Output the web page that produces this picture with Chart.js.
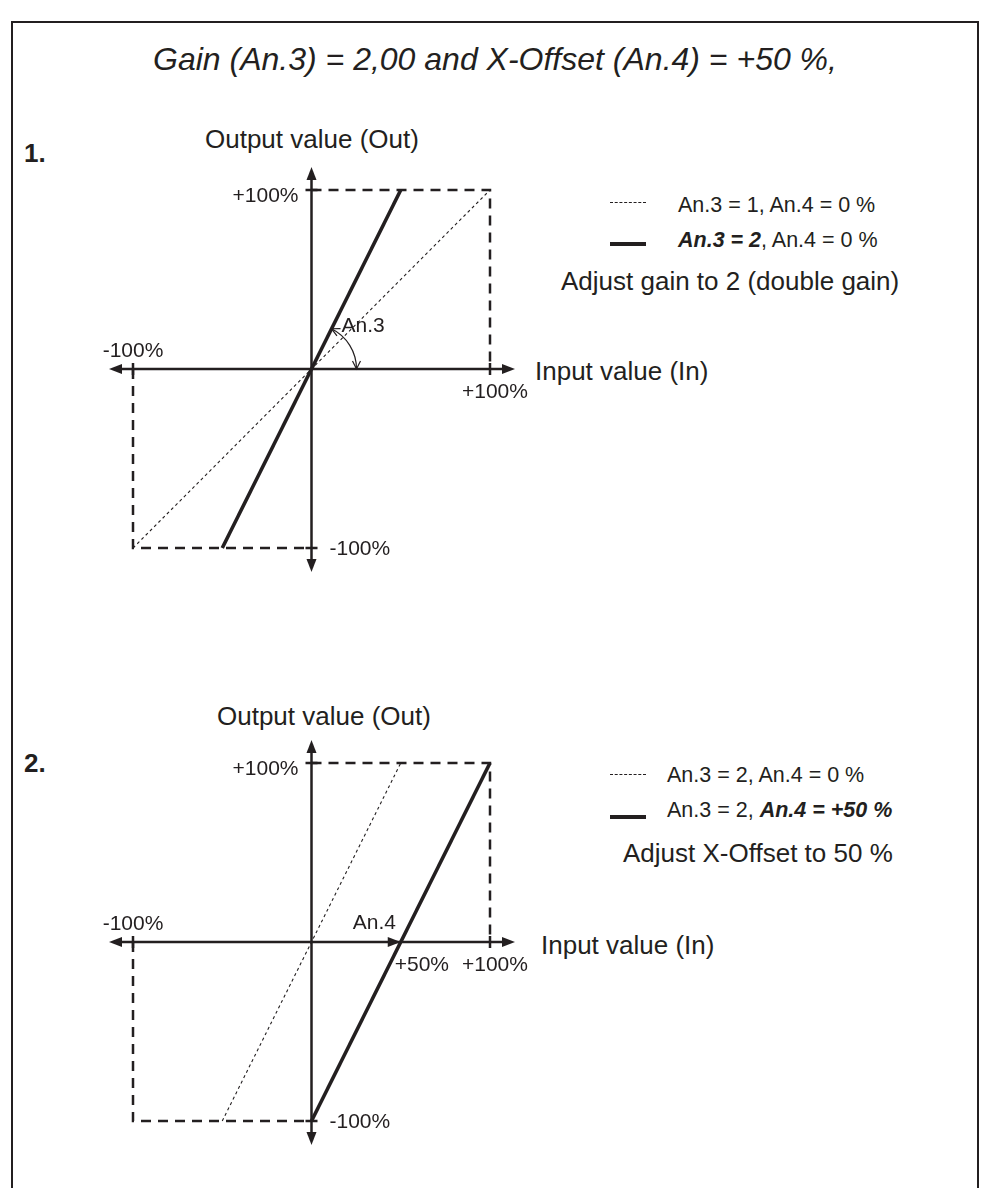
<!DOCTYPE html>
<html>
<head>
<meta charset="utf-8">
<script src="https://cdn.jsdelivr.net/npm/chart.js@4.4.0/dist/chart.umd.min.js"></script>
<style>
    html, body { margin: 0; padding: 0; background: #fff; }
    body {
        width: 989px; height: 1188px; position: relative; overflow: hidden;
        font-family: "Liberation Sans", Arial, sans-serif; color: #231f20;
    }
    .frame {
        position: absolute; left: 11px; top: 21px; width: 964px; height: 1200px;
        border: 2px solid #231f20; border-bottom: none;
    }
    .t { position: absolute; white-space: nowrap; line-height: 1; }
    .title { left: 12px; width: 966px; text-align: center; top: 43px; font-size: 32px; font-style: italic; }
    .num { font-size: 26px; font-weight: bold; left: 24px; }
    .axt { font-size: 26px; }
    .leg { font-size: 21.5px; }
    .adj { font-size: 26px; }
    .sw { position: absolute; left: 610px; width: 36px; height: 0; }
    .sw.dot { border-top: 1px dashed #231f20; }
    .sw.bold { border-top: 4px solid #231f20; }
    canvas { position: absolute; left: 0; }
</style>
</head>
<body>
<div class="frame"></div>
<div class="t title">Gain (An.3) = 2,00 and X-Offset (An.4) = +50 %,</div>

<div class="t num" style="top:140px">1.</div>
<div class="t axt" style="left:205px; top:126px">Output value (Out)</div>
<div class="t axt" style="left:535px; top:358px">Input value (In)</div>
<div class="sw dot" style="top:202px"></div>
<div class="t leg" style="left:678px; top:195px">An.3 = 1, An.4 = 0 %</div>
<div class="sw bold" style="top:242px"></div>
<div class="t leg" style="left:678px; top:230px"><b><i>An.3 = 2</i></b>, An.4 = 0 %</div>
<div class="t adj" style="left:561px; top:268px">Adjust gain to 2 (double gain)</div>

<div class="t num" style="top:750px">2.</div>
<div class="t axt" style="left:217px; top:703px">Output value (Out)</div>
<div class="t axt" style="left:541px; top:932px">Input value (In)</div>
<div class="sw dot" style="top:774px"></div>
<div class="t leg" style="left:667px; top:765px">An.3 = 2, An.4 = 0 %</div>
<div class="sw bold" style="top:815px"></div>
<div class="t leg" style="left:667px; top:800px">An.3 = 2, <b><i>An.4 = +50 %</i></b></div>
<div class="t adj" style="left:623px; top:840px">Adjust X-Offset to 50 %</div>

<canvas id="chart1" width="989" height="480" style="top:110px"></canvas>
<canvas id="chart2" width="989" height="508" style="top:680px"></canvas>

<script>
const ink = '#231f20';

// dashed +/-100% frame, same in both diagrams
const frameLowX = [-100, -100, 0];
const frameLowY = [0, -100, -100];
const frameHighX = [0, 100, 100];
const frameHighY = [100, 100, 0];

// diagram 1: gain 1 vs gain 2
const unityX = [-100, 100];
const unityY = [-100, 100];
const gainX = [-50, 50];
const gainY = [-100, 100];

// diagram 2: gain 2, offset 0 vs offset +50
const noOffsetX = [-50, 50];
const noOffsetY = [-100, 100];
const offsetX = [0, 100];
const offsetY = [-100, 100];

// tick marks and labels
const tickMarks = [-100, 100];
const xTicks1 = [-100, 100];
const xTickText1 = ['-100%', '+100%'];
const xTicks2 = [-100, 50, 100];
const xTickText2 = ['-100%', '+50%', '+100%'];
const yTicks = [-100, 100];
const yTickText = ['-100%', '+100%'];

function pts(xs, ys) {
    return xs.map((x, i) => ({ x: x, y: ys[i] }));
}

function frameSet(xs, ys) {
    return { data: pts(xs, ys), borderColor: ink, borderWidth: 2.5, borderDash: [10, 7], clip: false };
}
function dotSet(xs, ys) {
    return { data: pts(xs, ys), borderColor: ink, borderWidth: 1.1, borderDash: [3, 3], clip: false };
}
function boldSet(xs, ys) {
    return { data: pts(xs, ys), borderColor: ink, borderWidth: 3.6, clip: false };
}

// filled arrow head, tip at (x, y), pointing along (dx, dy)
function arrowHead(ctx, x, y, dx, dy, len, half) {
    const bx = x - dx * len, by = y - dy * len;
    ctx.beginPath();
    ctx.moveTo(x, y);
    ctx.lineTo(bx - dy * half, by + dx * half);
    ctx.lineTo(bx + dy * half, by - dx * half);
    ctx.closePath();
    ctx.fill();
}

// open (thin) arrow head
function openHead(ctx, x, y, dx, dy, len, half) {
    const bx = x - dx * len, by = y - dy * len;
    ctx.beginPath();
    ctx.moveTo(bx - dy * half, by + dx * half);
    ctx.lineTo(x, y);
    ctx.lineTo(bx + dy * half, by - dx * half);
    ctx.stroke();
}

const crossAxes = {
    id: 'crossAxes',
    beforeDatasetsDraw(chart, args, o) {
        const ctx = chart.ctx, xs = chart.scales.x, ys = chart.scales.y;
        const x0 = xs.getPixelForValue(0), y0 = ys.getPixelForValue(0);
        const left = xs.getPixelForValue(xs.min) - 24, right = xs.getPixelForValue(xs.max) + 25;
        const top = ys.getPixelForValue(ys.max) - 23, bottom = ys.getPixelForValue(ys.min) + 24;
        ctx.save();
        ctx.strokeStyle = ink;
        ctx.fillStyle = ink;
        ctx.lineWidth = 2.5;
        ctx.beginPath();
        ctx.moveTo(left + 10, y0); ctx.lineTo(right - 10, y0);
        ctx.moveTo(x0, top + 10); ctx.lineTo(x0, bottom - 10);
        o.marks.forEach(v => {
            const px = xs.getPixelForValue(v), py = ys.getPixelForValue(v);
            ctx.moveTo(px, y0 - 6); ctx.lineTo(px, y0 + 6);
            ctx.moveTo(x0 - 6, py); ctx.lineTo(x0 + 6, py);
        });
        ctx.stroke();
        arrowHead(ctx, left, y0, -1, 0, 13, 5);
        arrowHead(ctx, right, y0, 1, 0, 13, 5);
        arrowHead(ctx, x0, top, 0, -1, 13, 5);
        arrowHead(ctx, x0, bottom, 0, 1, 13, 5);
        ctx.restore();
    },
    afterDatasetsDraw(chart, args, o) {
        const ctx = chart.ctx, xs = chart.scales.x, ys = chart.scales.y;
        const x0 = xs.getPixelForValue(0), y0 = ys.getPixelForValue(0);
        ctx.save();
        ctx.fillStyle = ink;
        ctx.strokeStyle = ink;
        ctx.font = '21px "Liberation Sans", Arial, sans-serif';
        ctx.textBaseline = 'alphabetic';
        o.xTicks.forEach((v, i) => {
            const p = xs.getPixelForValue(v);
            if (v < 0) {
                ctx.textAlign = 'center';
                ctx.fillText(o.xText[i], p, y0 - 12);
            } else {
                ctx.textAlign = 'left';
                ctx.fillText(o.xText[i], p + o.xShift[i], y0 + 29);
            }
        });
        o.yTicks.forEach((v, i) => {
            const p = ys.getPixelForValue(v);
            if (v > 0) {
                ctx.textAlign = 'right';
                ctx.fillText(o.yText[i], x0 - 13, p + 12);
            } else {
                ctx.textAlign = 'left';
                ctx.fillText(o.yText[i], x0 + 18, p + 7);
            }
        });

        if (o.angle) {
            // gain angle between the x axis and the gain line
            const px = xs.getPixelForValue(o.angle.x[1]) - x0;
            const py = ys.getPixelForValue(o.angle.y[1]) - y0;
            const a = Math.atan2(py, px), r = 45;
            ctx.lineWidth = 1.2;
            ctx.beginPath();
            ctx.arc(x0, y0, r, a, 0, false);
            ctx.stroke();
            openHead(ctx, x0 + r, y0, 0, 1, 8, 4);
            openHead(ctx, x0 + r * Math.cos(a), y0 + r * Math.sin(a), Math.sin(a), -Math.cos(a), 8, 4);
            ctx.textAlign = 'left';
            ctx.fillText(o.angle.text, x0 + 30, y0 - 37);
        }
        if (o.offset) {
            // x-offset: where the shifted line crosses the x axis
            const xs0 = o.offset.x[0], xs1 = o.offset.x[1], ys0 = o.offset.y[0], ys1 = o.offset.y[1];
            const cross = xs0 + (0 - ys0) * (xs1 - xs0) / (ys1 - ys0);
            const tip = xs.getPixelForValue(cross);
            arrowHead(ctx, tip, y0, 1, 0, 13, 5);
            ctx.textAlign = 'left';
            ctx.fillText(o.offset.text, tip - 48, y0 - 13);
        }
        ctx.restore();
    }
};

function makeChart(id, datasets, pad, axisOpts) {
    return new Chart(document.getElementById(id), {
        type: 'scatter',
        data: { datasets: datasets },
        options: {
            responsive: false,
            devicePixelRatio: 1,
            animation: false,
            showLine: true,
            elements: { point: { radius: 0 }, line: { tension: 0 } },
            layout: { padding: pad },
            scales: {
                x: { type: 'linear', min: -100, max: 100, display: false },
                y: { type: 'linear', min: -100, max: 100, display: false }
            },
            plugins: {
                legend: { display: false },
                tooltip: { enabled: false },
                crossAxes: axisOpts
            }
        },
        plugins: [crossAxes]
    });
}

makeChart('chart1', [
    frameSet(frameLowX, frameLowY),
    frameSet(frameHighX, frameHighY),
    dotSet(unityX, unityY),
    boldSet(gainX, gainY)
], { left: 133, right: 499, top: 80, bottom: 42 }, {
    marks: tickMarks,
    xTicks: xTicks1, xText: xTickText1, xShift: [0, -28],
    yTicks: yTicks, yText: yTickText,
    angle: { x: gainX, y: gainY, text: 'An.3' }
});

makeChart('chart2', [
    frameSet(frameLowX, frameLowY),
    frameSet(frameHighX, frameHighY),
    dotSet(noOffsetX, noOffsetY),
    boldSet(offsetX, offsetY)
], { left: 133, right: 499, top: 83, bottom: 67 }, {
    marks: tickMarks,
    xTicks: xTicks2, xText: xTickText2, xShift: [0, -6, -28],
    yTicks: yTicks, yText: yTickText,
    offset: { x: offsetX, y: offsetY, text: 'An.4' }
});
</script>
</body>
</html>
